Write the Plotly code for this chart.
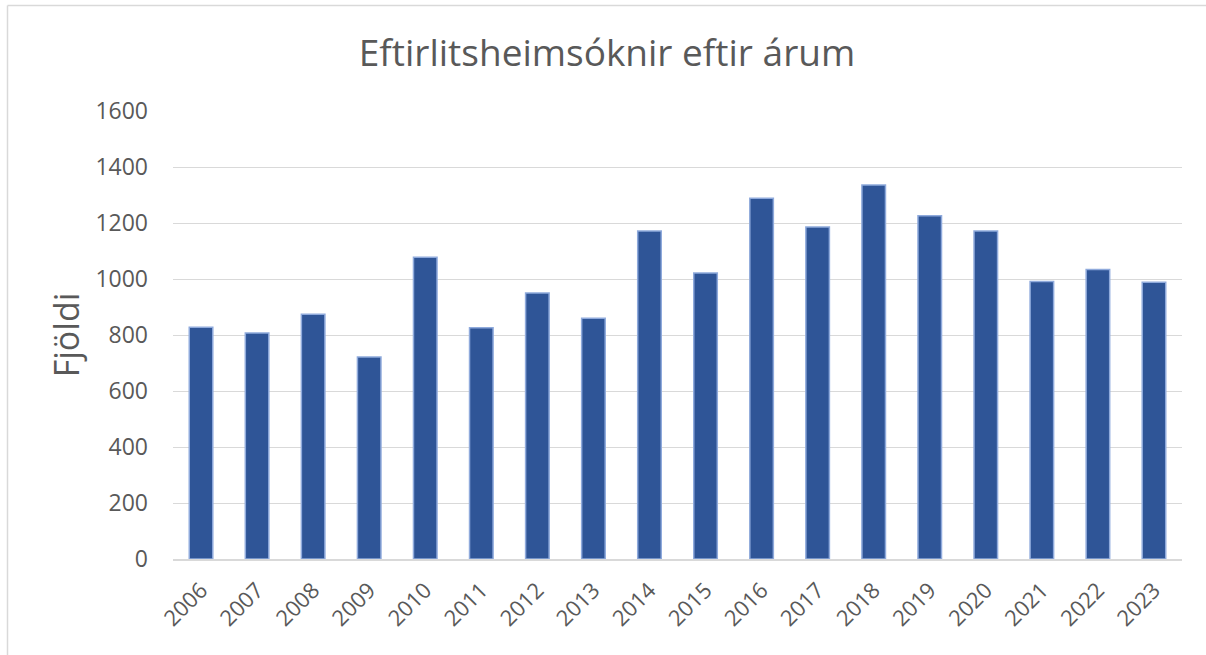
import plotly.graph_objects as go

years = ["2006", "2007", "2008", "2009", "2010", "2011", "2012", "2013", "2014",
         "2015", "2016", "2017", "2018", "2019", "2020", "2021", "2022", "2023"]
visits = [828, 807, 874, 721, 1078, 826, 950, 860, 1171,
          1021, 1288, 1186, 1336, 1226, 1171, 991, 1034, 988]
y_ticks = [0, 200, 400, 600, 800, 1000, 1200, 1400, 1600]

W, H = 1206, 655
L, R, T, B = 173, 24, 111, 96

fig = go.Figure(go.Bar(
    x=years, y=visits,
    marker=dict(color="#2F5597", line=dict(color="#8FAADC", width=1.5)),
    width=0.42,
))

pw = W - L - R
ph = H - T - B
# frame lines (left and top) in paper coords
x_left = (7.5 - L) / pw
y_top = (H - B - 5.5) / ph
fig.add_shape(type="line", xref="paper", yref="paper", x0=x_left, x1=(W - L) / pw,
              y0=y_top, y1=y_top, line=dict(color="#D9D9D9", width=1.5))
fig.add_shape(type="line", xref="paper", yref="paper", x0=x_left, x1=x_left,
              y0=y_top, y1=-B / ph, line=dict(color="#D9D9D9", width=1.5))

fig.update_layout(
    width=W, height=H,
    margin=dict(l=L, r=R, t=T, b=B),
    paper_bgcolor="white", plot_bgcolor="white",
    font=dict(family="Open Sans", color="#595959"),
    title=dict(text="Eftirlitsheimsóknir eftir árum", x=607 / W, xref="container",
               xanchor="center", y=1 - 53 / H, yref="container", yanchor="middle",
               font=dict(size=37, color="#595959", family="Open Sans")),
    showlegend=False,
    bargap=0.58,
)
fig.update_yaxes(
    range=[0, 1600], tickvals=y_ticks, showgrid=True, gridcolor="#D9D9D9",
    gridwidth=1, zeroline=False, showline=False,
    tickfont=dict(size=23, color="#595959"), ticklabelstandoff=24,
    title=dict(text="Fjöldi", font=dict(size=34, color="#595959"), standoff=5),
)
fig.update_xaxes(
    showgrid=False, showline=True, linecolor="#D9D9D9", linewidth=1.5,
    tickangle=-45, tickfont=dict(size=22, color="#595959"), ticklabelstandoff=8,
)

fig.write_html("out.html", config={"displayModeBar": False},
               post_script="document.body.style.margin='0';")
